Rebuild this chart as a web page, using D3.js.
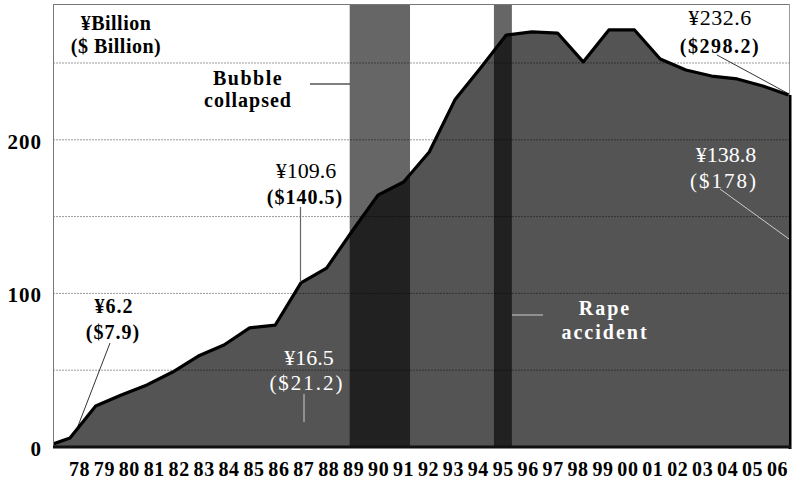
<!DOCTYPE html>
<html><head><meta charset="utf-8">
<script src="https://cdn.jsdelivr.net/npm/d3@7"></script>
<style>
html,body{margin:0;padding:0;background:#fff;}
svg{display:block;font-family:"Liberation Serif","Times New Roman",serif;}
</style></head>
<body>
<svg id="chart" width="793" height="482"></svg>
<script>
// ---- data (¥ billion) ----
const years = [1977,1978,1979,1980,1981,1982,1983,1984,1985,1986,1987,1988,1989,1990,1991,1992,1993,1994,1995,1996,1997,1998,1999,2000,2001,2002,2003,2004,2005,2006];
const values = [0,5.9,26.7,33.9,40.4,48.8,59.2,66.4,77.5,79.4,106.8,116.5,140.6,164,172.5,192,226,246.7,268.2,270.2,269.5,250.7,271.5,271.5,252.6,245.4,241.5,239.6,235,229.2];
const tickLabels = ["78","79","80","81","82","83","84","85","86","87","88","89","90","91","92","93","94","95","96","97","98","99","00","01","02","03","04","05","06"];
const yTicks = [0,100,200];
const gridValues = [50,100,150,200,250];
const bands = [{name:"Bubble collapsed", from:1988.9, to:1991.25},{name:"Rape accident", from:1994.52, to:1995.22}];

(function(){
const svg = d3.select("#chart");
const pL = 53, pR = 790, pT = 4, pB = 447;

const x = d3.scaleLinear().domain([1978, 2006]).range([70, 788.5]);
const y = d3.scaleLinear().domain([0, 288.4]).range([pB, pT]);
const xLab = d3.scalePoint().domain(tickLabels).range([79, 777]);

svg.append("defs").append("clipPath").attr("id","plotclip")
  .append("rect").attr("x",pL).attr("y",pT).attr("width",pR-pL).attr("height",pB-pT);

const data = years.map((yr,i)=>({yr, v:values[i]}));
const plot = svg.append("g").attr("clip-path","url(#plotclip)");

// area
plot.append("path").datum(data)
  .attr("d", d3.area().x(d=>x(d.yr)).y0(y(0)).y1(d=>y(d.v)))
  .attr("fill","#545454");

// event bands
plot.selectAll("rect.band").data(bands).join("rect")
  .attr("class","band")
  .attr("x", d=>x(d.from)).attr("width", d=>x(d.to)-x(d.from))
  .attr("y", pT).attr("height", pB-pT)
  .attr("fill","#000").attr("fill-opacity",0.6);

// gridlines
plot.selectAll("line.grid").data(gridValues).join("line")
  .attr("class","grid")
  .attr("x1", pL).attr("x2", pR)
  .attr("y1", d=>y(d)).attr("y2", d=>y(d))
  .attr("stroke","#000").attr("stroke-opacity",0.4)
  .attr("stroke-width",1).attr("stroke-dasharray","2,1");

// line
plot.append("path").datum(data)
  .attr("d", d3.line().x(d=>x(d.yr)).y(d=>y(d.v)))
  .attr("fill","none").attr("stroke","#000").attr("stroke-width",3.2)
  .attr("stroke-linejoin","round");

// frame
svg.append("line").attr("x1",pL).attr("x2",pR).attr("y1",pT+0.5).attr("y2",pT+0.5).attr("stroke","#777").attr("stroke-width",1);
svg.append("line").attr("x1",pL+0.5).attr("x2",pL+0.5).attr("y1",pT).attr("y2",pB).attr("stroke","#777").attr("stroke-width",1);
svg.append("line").attr("x1",pR-0.5).attr("x2",pR-0.5).attr("y1",pT).attr("y2",pB).attr("stroke","#999").attr("stroke-width",1);
svg.append("line").attr("x1",pR).attr("x2",pR).attr("y1",y(values[values.length-1])).attr("y2",pB+2).attr("stroke","#000").attr("stroke-width",3);
svg.append("line").attr("x1",pL).attr("x2",pR+1).attr("y1",pB).attr("y2",pB).attr("stroke","#111").attr("stroke-width",3);

// y axis
const yAxis = svg.append("g").attr("transform",`translate(${pL},0)`)
  .call(d3.axisLeft(y).tickValues(yTicks).tickSize(0).tickPadding(11).tickFormat(d3.format("d")));
yAxis.select(".domain").remove();
yAxis.selectAll("text").attr("font-family","Liberation Serif").attr("font-weight","bold")
  .attr("font-size",21).attr("fill","#000").attr("letter-spacing",1).attr("dy","0.4em");

// x axis labels
const xAxis = svg.append("g").attr("transform",`translate(0,${pB})`)
  .call(d3.axisBottom(xLab).tickSize(0).tickPadding(15));
xAxis.select(".domain").remove();
xAxis.selectAll("text").attr("font-family","Liberation Serif").attr("font-weight","bold")
  .attr("font-size",20).attr("fill","#000").attr("letter-spacing",0.6);

// annotations
function txt(t, xx, yy, opts={}){
  return svg.append("text").attr("x",xx).attr("y",yy).attr("text-anchor",opts.anchor||"middle")
    .attr("font-family","Liberation Serif").attr("font-weight",opts.weight||"bold")
    .attr("font-size",opts.size||20).attr("fill",opts.fill||"#000")
    .attr("letter-spacing",opts.ls||0).text(t);
}
function seg(x1,y1,x2,y2,col,w){
  svg.append("line").attr("x1",x1).attr("y1",y1).attr("x2",x2).attr("y2",y2).attr("stroke",col).attr("stroke-width",w||1);
}
txt("¥Billion", 116, 30, {ls:0.5});
txt("($ Billion)", 116, 53, {ls:0.5});
txt("Bubble", 248, 85, {ls:1.5});
txt("collapsed", 248, 107, {ls:1});
seg(310,84,350,84,"#000",1);

txt("¥232.6", 720, 25, {weight:"normal", size:22, ls:0.5});
txt("($298.2)", 720, 53, {ls:1.5});
seg(717,55,789,94,"#000",0.8);

txt("¥138.8", 726, 162, {fill:"#fff", weight:"normal", size:22});
txt("($178)", 724, 188, {fill:"#fff", weight:"normal", size:21, ls:2});
seg(720,189,789,239,"#ccc",1);

txt("¥109.6", 306, 178, {weight:"normal", size:22});
txt("($140.5)", 305, 204, {ls:1});
seg(300.5,207,300.5,282,"#666",1.2);

txt("¥6.2", 114, 313, {ls:1});
txt("($7.9)", 113, 339, {ls:1});
seg(110,343,78,426,"#000",0.8);

txt("¥16.5", 309, 365, {fill:"#fff", weight:"normal", size:22});
txt("($21.2)", 307, 390, {fill:"#fff", weight:"normal", size:21, ls:2});
seg(304,394,304,422,"#ccc",1);

txt("Rape", 605, 315, {fill:"#fff", ls:2});
txt("accident", 605, 339, {fill:"#fff", ls:2});
seg(512,315,543,315,"#ccc",1);
})();
</script>
</body></html>
